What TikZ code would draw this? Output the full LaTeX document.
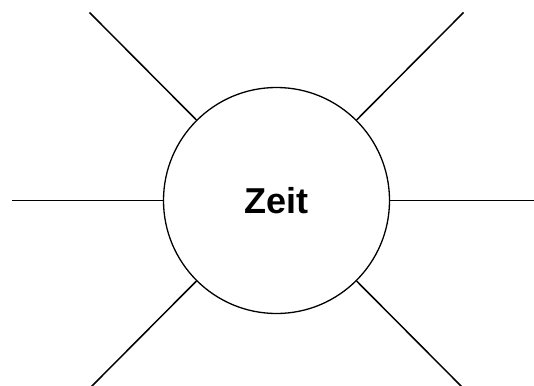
\documentclass[tikz,border=0pt]{standalone}
\usepackage{fontspec}
\setmainfont{Liberation Sans}
\usepackage{tikz}
\usetikzlibrary{positioning}

\begin{document}
\begin{tikzpicture}[x=1pt,y=-1pt]

    % Frame
    \useasboundingbox (0,0) rectangle (534,385);
    \clip (0,0) rectangle (534,385);

    % Centre circle
    \node[draw,circle,line width=1.3pt,minimum size=226pt,inner sep=0pt,
          font=\bfseries\fontsize{36}{40}\selectfont] (zeit) at (276.5,200.5) {Zeit};

    % Free ends of the rays
    \coordinate (nw) at (89.5,12.5);
    \coordinate (ne) at (463.5,12.5);
    \coordinate (w)  at (11.5,200.5);
    \coordinate (e)  at (545,200.5);
    \coordinate (sw) at (89.5,388.5);
    \coordinate (se) at (463.5,388.5);

    % Rays
    \foreach \tip in {nw,ne,w,e,sw,se}
        \draw[line width=1.5pt] (zeit) -- (\tip);

\end{tikzpicture}
\end{document}
